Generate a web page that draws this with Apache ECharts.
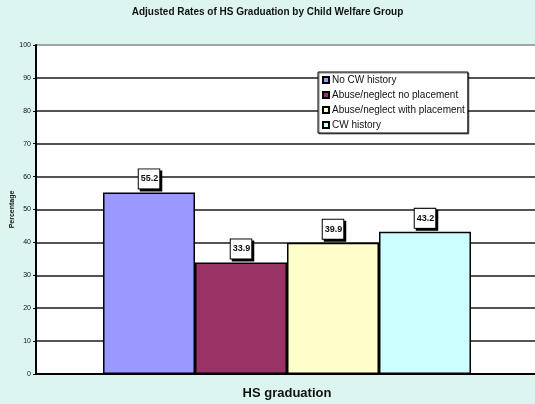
<!DOCTYPE html>
<html><head><meta charset="utf-8">
<script src="https://cdn.jsdelivr.net/npm/echarts@6/dist/echarts.min.js"></script>
<style>html,body{margin:0;padding:0;background:#DCF5F1;}#c{width:535px;height:404px;}</style>
</head><body><div id="c"></div>
<script>
const categories = ['HS graduation'];
const seriesNames = ['No CW history','Abuse/neglect no placement','Abuse/neglect with placement','CW history'];
const seriesValues = [[55.2],[33.9],[39.9],[43.2]];
const seriesColors = ['#9999FF','#993366','#FFFFCC','#CCFFFF'];
const yTicks = [0,10,20,30,40,50,60,70,80,90,100];

const chart = echarts.init(document.getElementById('c'), null, {renderer:'canvas'});
const splitColors = yTicks.map((t,i)=> i===yTicks.length-1 ? '#888' : '#1a1a1a');
chart.setOption({
  backgroundColor:'#DCF5F1',
  animation:false,
  title:{text:'Adjusted Rates of HS Graduation by Child Welfare Group',left:'center',top:2,
    textStyle:{fontFamily:'Liberation Sans, Arial',fontSize:10,fontWeight:'bold',color:'#111'}},
  legend:{orient:'vertical',left:318,top:72,itemWidth:6,itemHeight:6,itemGap:5,icon:'rect',
    padding:[3,3,3,4],backgroundColor:'#fff',borderColor:'#000',borderWidth:1,
    shadowColor:'rgba(0,0,0,0.5)',shadowOffsetX:1,shadowOffsetY:1,
    textStyle:{fontFamily:'Liberation Sans, Arial',fontSize:10,color:'#111',padding:[0,0,0,-2]},
    data:seriesNames},
  grid:{left:36,right:-3,top:45,bottom:30,show:true,backgroundColor:'#fff',borderWidth:0,
    containLabel:false,outerBoundsMode:'none'},
  xAxis:{type:'category',data:categories,
    axisLine:{lineStyle:{color:'#000',width:2}},axisTick:{show:false},
    axisLabel:{fontFamily:'Liberation Sans, Arial',fontSize:13,fontWeight:'bold',color:'#111',margin:13}},
  yAxis:{type:'value',min:0,max:100,interval:10,
    name:'Percentage',nameLocation:'middle',nameGap:20,nameMoveOverlap:false,
    nameTextStyle:{fontFamily:'Liberation Sans, Arial',fontSize:7,fontWeight:'bold',color:'#111'},
    axisLine:{show:true,lineStyle:{color:'#000',width:2}},
    axisTick:{show:true,length:3,lineStyle:{color:'#000',width:1}},
    axisLabel:{fontFamily:'Liberation Sans, Arial',fontSize:7,color:'#111',margin:5},
    splitLine:{show:true,lineStyle:{color:splitColors,width:1.6}}},
  series: seriesNames.map((n,i)=>({
    name:n,type:'bar',data:seriesValues[i],barGap:'0%',barCategoryGap:'26.7%',
    itemStyle:{color:seriesColors[i],borderColor:'#000',borderWidth:1.5},
    label:{show:true,position:'top',distance:4,
      fontFamily:'Liberation Sans, Arial',fontSize:9,fontWeight:'bold',color:'#111',
      backgroundColor:'#fff',borderColor:'#000',borderWidth:1,padding:[5,1,5,2],
      shadowColor:'#000',shadowOffsetX:2,shadowOffsetY:2,shadowBlur:0}
  }))
});
</script></body></html>
